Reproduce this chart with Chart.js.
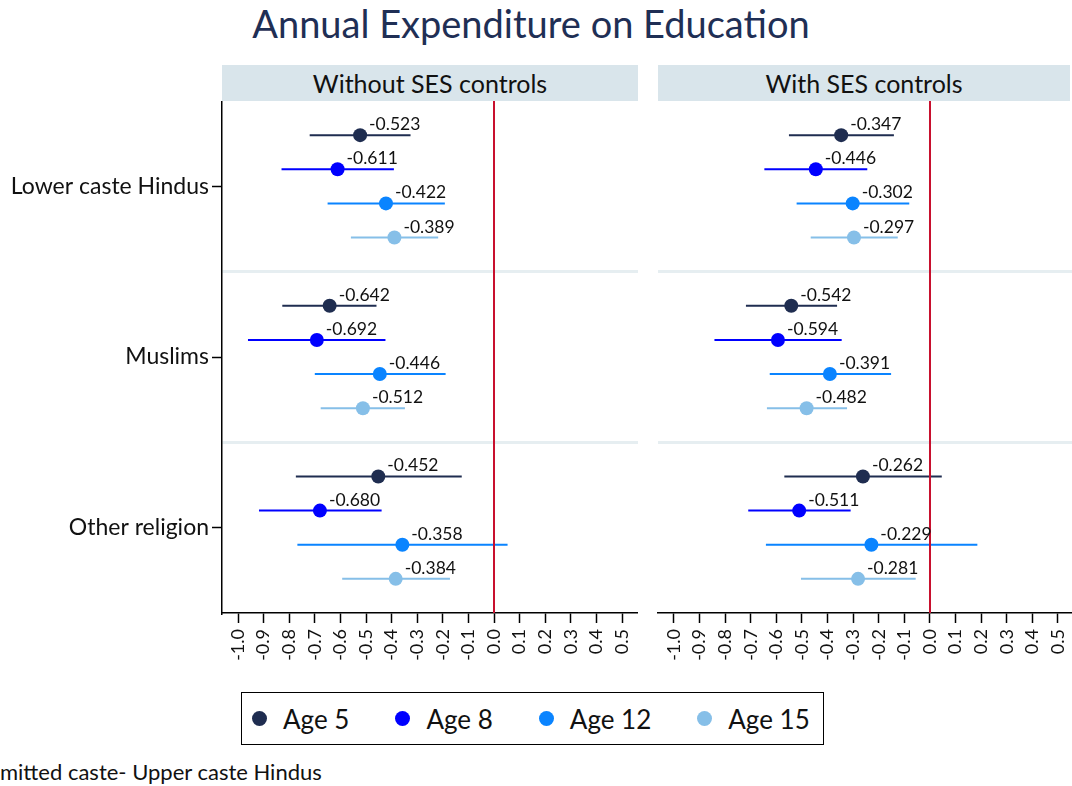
<!DOCTYPE html>
<html>
<head>
<meta charset="utf-8">
<script src="https://cdn.jsdelivr.net/npm/chart.js@4.4.0/dist/chart.umd.min.js"></script>
<style>
  body { margin: 0; background: #fff; font-family: Lato, "Open Sans", sans-serif; }
  #page { position: relative; width: 1072px; height: 786px; overflow: hidden; }
  .abs { position: absolute; }
  #title { left: 0; width: 1062px; top: 0px; text-align: center; font-size: 38px; color: #1f2f55; }
  .head { top: 65px; height: 36px; line-height: 36px; background: #d9e5eb; text-align: center; font-size: 25px; color: #111; }
  #legend { left: 241px; top: 692px; width: 571px; height: 51px; border: 1.5px solid #000; display: flex; align-items: center; padding-left: 10px; box-sizing: content-box; }
  .item { display: flex; align-items: center; margin-right: 46px; font-size: 26px; color: #111; white-space: nowrap; flex-shrink: 0; }
  .dot { width: 15px; height: 15px; border-radius: 50%; margin-right: 16px; }
  #note { left: 0; top: 758px; font-size: 22px; color: #111; }
</style>
</head>
<body>
<div id="page">
  <div id="title" class="abs">Annual Expenditure on Education</div>
  <div class="abs head" style="left:222px;width:416px;">Without SES controls</div>
  <div class="abs head" style="left:658px;width:412px;">With SES controls</div>
  <canvas id="leftChart" class="abs" style="left:0;top:101px;" width="638" height="572"></canvas>
  <canvas id="rightChart" class="abs" style="left:640px;top:101px;" width="432" height="572"></canvas>
  <div id="legend" class="abs"></div>
  <div id="note" class="abs">mitted caste- Upper caste Hindus</div>
</div>
<script>
// categories, series and ticks
const categories = ['Lower caste Hindus', 'Muslims', 'Other religion'];
const ages = ['Age 5', 'Age 8', 'Age 12', 'Age 15'];
const ageColors = ['#1f2d50', '#0000ff', '#0a84ff', '#86bfe8'];
const xTicks = [-1.0, -0.9, -0.8, -0.7, -0.6, -0.5, -0.4, -0.3, -0.2, -0.1, 0.0, 0.1, 0.2, 0.3, 0.4, 0.5];

// Without SES controls: one row per age, one value per category
const noSesCoef = [
    [-0.523, -0.642, -0.452],
    [-0.611, -0.692, -0.680],
    [-0.422, -0.446, -0.358],
    [-0.389, -0.512, -0.384]
];
const noSesLow = [
    [-0.720, -0.827, -0.774],
    [-0.830, -0.961, -0.918],
    [-0.650, -0.700, -0.768],
    [-0.559, -0.677, -0.593]
];
const noSesHigh = [
    [-0.326, -0.459, -0.126],
    [-0.391, -0.424, -0.439],
    [-0.192, -0.189, 0.053],
    [-0.218, -0.348, -0.172]
];

// With SES controls
const sesCoef = [
    [-0.347, -0.542, -0.262],
    [-0.446, -0.594, -0.511],
    [-0.302, -0.391, -0.229],
    [-0.297, -0.482, -0.281]
];
const sesLow = [
    [-0.551, -0.719, -0.569],
    [-0.647, -0.842, -0.710],
    [-0.521, -0.626, -0.641],
    [-0.466, -0.637, -0.504]
];
const sesHigh = [
    [-0.141, -0.363, 0.046],
    [-0.245, -0.345, -0.310],
    [-0.081, -0.152, 0.185],
    [-0.126, -0.324, -0.056]
];

// y position of an age inside its category band
function rowY(cat, k) {
    return cat + 0.5 + (k - 1.5) * 0.2;
}

function buildDatasets(coef, low, high) {
    const sets = [];
    // linea roja en cero
    sets.push({
        type: 'scatter', showLine: true, data: [{ x: 0, y: 0 }, { x: 0, y: 3 }],
        borderColor: '#c8102e', borderWidth: 2, pointRadius: 0
    });
    ages.forEach((age, k) => {
        sets.push({
            type: 'scatter', label: age, isPoint: true,
            data: coef[k].map((v, i) => ({ x: v, y: rowY(i, k) })),
            backgroundColor: ageColors[k], borderColor: ageColors[k],
            pointRadius: 7, pointBorderWidth: 0
        });
    });
    ages.forEach((age, k) => {
        const pts = [];
        categories.forEach((c, i) => {
            pts.push({ x: low[k][i], y: rowY(i, k) });
            pts.push({ x: high[k][i], y: rowY(i, k) });
            pts.push({ x: null, y: null });
        });
        sets.push({
            type: 'scatter', showLine: true, spanGaps: false, data: pts,
            borderColor: ageColors[k], borderWidth: 2, pointRadius: 0
        });
    });
    return sets;
}

// etiquetas de valor encima de cada punto
const valueLabels = {
    id: 'valueLabels',
    afterDatasetsDraw(chart) {
        const ctx = chart.ctx;
        ctx.save();
        ctx.font = '17.5px Lato';
        ctx.fillStyle = '#111';
        ctx.textAlign = 'left';
        ctx.textBaseline = 'alphabetic';
        chart.data.datasets.forEach((ds, di) => {
            if (!ds.isPoint) return;
            chart.getDatasetMeta(di).data.forEach((el, i) => {
                ctx.fillText(ds.data[i].x.toFixed(3), el.x + 9, el.y - 5);
            });
        });
        ctx.restore();
    }
};

function makeChart(id, coef, low, high, showY, xMax) {
    const ctx = document.getElementById(id).getContext('2d');
    return new Chart(ctx, {
        data: { datasets: buildDatasets(coef, low, high) },
        options: {
            responsive: false,
            animation: false,
            devicePixelRatio: 1,
            layout: { padding: 0, autoPadding: false },
            plugins: { legend: { display: false }, tooltip: { enabled: false } },
            scales: {
                x: {
                    type: 'linear', min: -1.0625, max: xMax,
                    afterBuildTicks: s => { s.ticks = xTicks.map(v => ({ value: v })); },
                    afterFit: s => { s.height = 60; s.paddingLeft = 0; s.paddingRight = 0; },
                    border: { display: true, color: '#000', width: 1.5 },
                    grid: { drawOnChartArea: false, drawTicks: true, tickLength: 10, color: '#000', tickWidth: 1.5 },
                    ticks: {
                        autoSkip: false, minRotation: 90, maxRotation: 90, padding: 6,
                        color: '#111', font: { family: 'Lato', size: 18 },
                        callback: v => v.toFixed(1)
                    }
                },
                y: {
                    type: 'linear', min: 0, max: 3, reverse: true,
                    afterBuildTicks: s => { s.ticks = [0, 0.5, 1, 1.5, 2, 2.5, 3].map(v => ({ value: v })); },
                    afterFit: s => { s.width = showY ? 222 : 18; s.paddingTop = 0; s.paddingBottom = 0; },
                    border: { display: showY, color: '#000', width: 1.5 },
                    grid: {
                        drawTicks: showY, tickLength: 10, tickWidth: 1.5,
                        lineWidth: 3,
                        color: c => (c.tick.value === 1 || c.tick.value === 2) ? '#e6eef1' : 'rgba(0,0,0,0)',
                        tickColor: c => (c.tick.value % 1 === 0.5) ? '#000' : 'rgba(0,0,0,0)'
                    },
                    ticks: {
                        display: showY, autoSkip: false, padding: 3,
                        color: '#111', font: { family: 'Lato', size: 23 },
                        callback: v => (v % 1 === 0.5) ? categories[Math.floor(v)] : ''
                    }
                }
            }
        },
        plugins: [valueLabels]
    });
}

makeChart('leftChart', noSesCoef, noSesLow, noSesHigh, true, 0.5625);
makeChart('rightChart', sesCoef, sesLow, sesHigh, false, 0.5547);

// leyenda en html
const legend = document.getElementById('legend');
ages.forEach((age, k) => {
    const item = document.createElement('div');
    item.className = 'item';
    item.innerHTML = '<span class="dot" style="background:' + ageColors[k] + '"></span><span>' + age + '</span>';
    legend.appendChild(item);
});
</script>
</body>
</html>
